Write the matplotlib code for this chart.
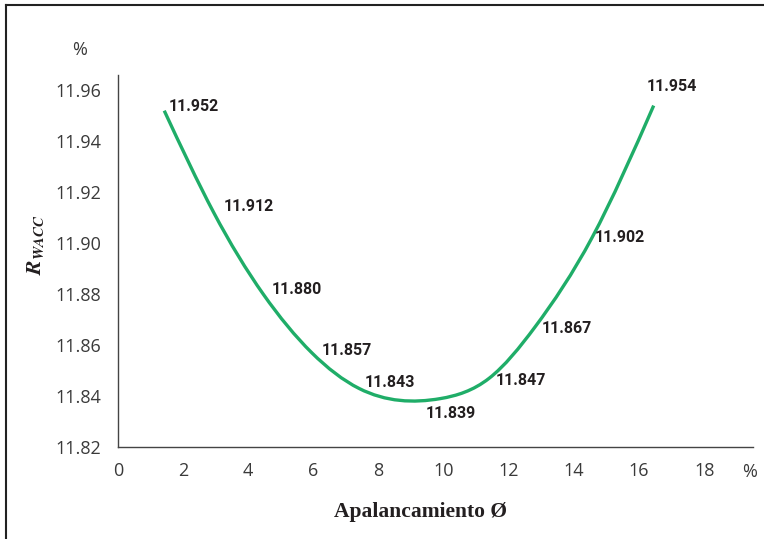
import matplotlib
matplotlib.use("Agg")
import matplotlib.pyplot as plt
import numpy as np
from matplotlib.path import Path
from matplotlib.patches import PathPatch
from matplotlib.lines import Line2D

# leverage (%) and R_WACC (%)
apalancamiento = [1.42, 2.94, 4.46, 5.95, 7.40, 9.9, 11.4, 12.8, 14.55, 16.45]
rwacc = [11.952, 11.912, 11.880, 11.857, 11.843, 11.839, 11.847, 11.867, 11.902, 11.954]
xticks = [0, 2, 4, 6, 8, 10, 12, 14, 16, 18]
yticks = [11.82, 11.84, 11.86, 11.88, 11.90, 11.92, 11.94, 11.96]

# where each value label sits relative to its point (points)
label_offsets = [(3.3, 3), (7, 4.6), (6, 3.3), (6.8, 1.4), (4.3, 3.9),
                 (-10.6, -11), (4.5, -1.4), (5.3, -0.6), (2.3, 0.2), (-5, 13.5)]

green = "#1fad68"
plt.rcParams["mathtext.fontset"] = "stix"

fig = plt.figure(figsize=(7.64, 5.39), dpi=100)
ax = fig.add_axes([118 / 764, 1 - 447 / 539, (753 - 118) / 764, (447 - 75) / 539])


# smoothed line: natural cubic spline drawn as bezier segments
def smooth_path(xs, ys):
    x = np.array(xs, float)
    y = np.array(ys, float)
    n = len(x)
    h = np.diff(x)
    A = np.zeros((n, n))
    b = np.zeros(n)
    A[0, 0] = A[-1, -1] = 1
    for i in range(1, n - 1):
        A[i, i - 1] = h[i - 1]
        A[i, i] = 2 * (h[i - 1] + h[i])
        A[i, i + 1] = h[i]
        b[i] = 6 * ((y[i + 1] - y[i]) / h[i] - (y[i] - y[i - 1]) / h[i - 1])
    M = np.linalg.solve(A, b)
    s = np.zeros(n)
    for i in range(n - 1):
        s[i] = (y[i + 1] - y[i]) / h[i] - h[i] * (2 * M[i] + M[i + 1]) / 6
    s[-1] = (y[-1] - y[-2]) / h[-1] + h[-1] * (M[-2] + 2 * M[-1]) / 6
    verts = [(x[0], y[0])]
    codes = [Path.MOVETO]
    for i in range(n - 1):
        verts += [(x[i] + h[i] / 3, y[i] + s[i] * h[i] / 3),
                  (x[i + 1] - h[i] / 3, y[i + 1] - s[i + 1] * h[i] / 3),
                  (x[i + 1], y[i + 1])]
        codes += [Path.CURVE4] * 3
    return Path(verts, codes)


ax.add_patch(PathPatch(smooth_path(apalancamiento, rwacc), facecolor="none",
                       edgecolor=green, lw=2.4, capstyle="butt"))

lab_font = dict(family=["Roboto", "DejaVu Sans"], weight="bold",
                size=11.5, color="#231f20")
for (x, y), off in zip(zip(apalancamiento, rwacc), label_offsets):
    ax.annotate("{:.3f}".format(y), (x, y), xytext=off, textcoords="offset points",
                ha="left", va="center", **lab_font)

ax.set_xlim(0, 19.5)
ax.set_ylim(11.82, 11.966)
ax.set_xticks(xticks)
ax.set_yticks(yticks)
ax.set_yticklabels(["{:.2f}".format(v) for v in yticks])
ax.tick_params(length=0, labelsize=13, labelcolor="#3a3a3a")
ax.tick_params(axis="x", pad=11)
ax.tick_params(axis="y", pad=12)
for lbl in ax.get_xticklabels() + ax.get_yticklabels():
    lbl.set_family(["Open Sans", "DejaVu Sans"])
for s in ["top", "right"]:
    ax.spines[s].set_visible(False)
for s in ["left", "bottom"]:
    ax.spines[s].set_color("#444444")
    ax.spines[s].set_linewidth(1.0)

fig.text(750 / 764, 1 - 472 / 539, "%", ha="center", va="center", fontsize=13,
         color="#3a3a3a", family=["Open Sans", "DejaVu Sans"])
fig.text(80 / 764, 1 - 50 / 539, "%", ha="center", va="center", fontsize=13,
         color="#3a3a3a", family=["Open Sans", "DejaVu Sans"])

fig.text(420 / 764, 1 - 512 / 539, "Apalancamiento Ø", ha="center", va="center",
         fontsize=15.5, weight="bold", family=["Liberation Serif", "DejaVu Serif"],
         color="#231f20")
fig.text(35 / 764, 1 - 245 / 539, r"$\boldsymbol{R}_{\boldsymbol{WACC}}$", ha="center",
         va="center", rotation=90, fontsize=15.5, color="#231f20")

# frame lines on left and top edge
fig.add_artist(Line2D([6 / 764, 6 / 764], [0, 1 - 5 / 539], color="#222222", lw=1.5))
fig.add_artist(Line2D([6 / 764, 1], [1 - 5 / 539, 1 - 5 / 539], color="#222222", lw=1.5))

fig.savefig("out.png", dpi=100)
